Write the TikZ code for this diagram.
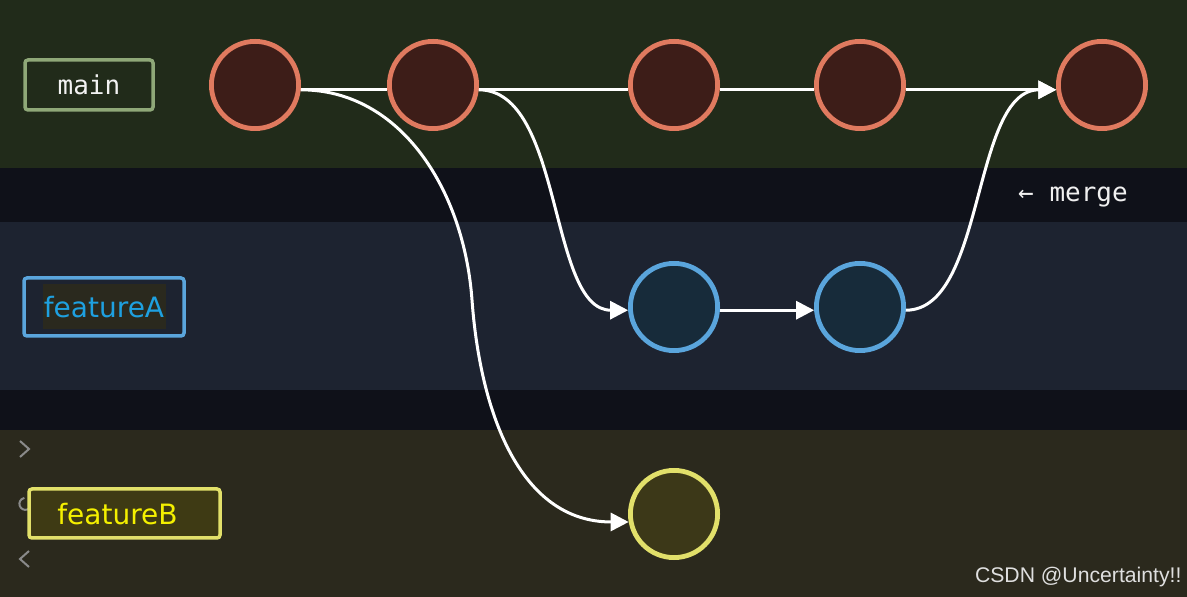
\documentclass[tikz,border=0pt]{standalone}
\usepackage{fontspec}
\setmainfont{DejaVu Sans}
\setmonofont{DejaVu Sans Mono}
\newfontfamily\wmfont{Liberation Sans}
\usetikzlibrary{arrows.meta}
\definecolor{topband}{HTML}{212B1A}
\definecolor{gapband}{HTML}{0F1119}
\definecolor{midband}{HTML}{1D2330}
\definecolor{lowband}{HTML}{2B291D}
\definecolor{mainring}{HTML}{E07A5F}
\definecolor{mainfill}{HTML}{3D1D18}
\definecolor{aring}{HTML}{5AA5DC}
\definecolor{afill}{HTML}{172B3A}
\definecolor{bring}{HTML}{E2E06A}
\definecolor{bfill}{HTML}{3C3818}
\definecolor{mainedge}{HTML}{8FA878}
\definecolor{atext}{HTML}{1EA0E0}
\definecolor{abg}{HTML}{2A291E}
\definecolor{btext}{HTML}{F4F000}
\definecolor{bbox}{HTML}{3E3A14}
\definecolor{icongray}{HTML}{8A8A8A}
\begin{document}
\begin{tikzpicture}[x=0.5pt,y=-0.5pt,line width=1.5pt,
  commit/.style={circle,line width=2.4pt,minimum size=43.6pt,inner sep=0pt},
  onmain/.style={commit,draw=mainring,fill=mainfill},
  ona/.style={commit,draw=aring,fill=afill},
  onb/.style={commit,draw=bring,fill=bfill},
  link/.style={draw=white,line width=1.5pt},
  tolink/.style={link,-{Triangle[length=9pt,width=9pt]}},
  tag/.style={rounded corners=1.5pt,line width=1.75pt,inner sep=0pt},
  icon/.style={draw=icongray,line width=1pt}]
			\fill[topband] (0,0) rectangle (1187,168);
			\fill[gapband] (0,168) rectangle (1187,222);
			\fill[midband] (0,222) rectangle (1187,390);
			\fill[gapband] (0,390) rectangle (1187,430);
			\fill[lowband] (0,430) rectangle (1187,597);
			\node[onmain] (c1) at (255,85){};
			\node[onmain] (c2) at (433,85){};
			\node[onmain] (c3) at (674,85){};
			\node[onmain] (c4) at (860,85){};
			\node[onmain] (c5) at (1102,85){};
			\node[ona] (a1) at (674,307){};
			\node[ona] (a2) at (860,307){};
			\node[onb] (b1) at (674,514){};
			\coordinate (bvia) at (472,300);
			\draw[link] (c1.-6)--(c2.186);
			\draw[link] (c2.-6)--(c3.186);
			\draw[link] (c3.-6)--(c4.186);
			\draw[tolink] (c4.-6)--(c5.186);
			\draw[tolink] (a1.-4)--(a2.184);
			\draw[tolink] (c1.-6) .. controls +(100,0) and +(-8,-110) .. (bvia)
			  .. controls +(8,110) and +(-110,0) .. (b1.190);
			\draw[tolink] (c2.-6) .. controls +(85,0) and +(-80,0) .. (a1.184);
			\draw[tolink] (a2.-4) .. controls +(80,0) and +(-85,0) .. (c5.186);
			\node[tag,draw=mainedge,fill=topband,minimum width=64pt,minimum height=25pt,
			  text=white!90!gray,font=\ttfamily\fontsize{13}{15}\selectfont] (lblmain) at (89,85){main};
			\node[tag,draw=aring,fill=midband,minimum width=80pt,minimum height=29pt] (lbla) at (104,307){};
			\node[fill=abg,text=atext,inner sep=0pt,minimum width=61.5pt,minimum height=22.5pt,
			  font=\fontsize{14}{16}\selectfont] (txta) at (lbla){featureA};
			\draw[icon] (20,441)--(29,449)--(20,457);
			\draw[icon] (29,551)--(20,559)--(29,567);
			\draw[icon] (30,500) arc[start angle=-40,end angle=260,radius=6];
			\node[tag,draw=bring,fill=bbox,minimum width=95.5pt,minimum height=24.5pt] (lblb) at (124.5,513.5){};
			\node[text=btext,inner sep=0pt,font=\fontsize{14}{16}\selectfont] (txtb) at (117.5,514){featureB};
			\node[text=white!88!gray,font=\ttfamily\fontsize{13}{15}\selectfont] (mergetxt) at (1073,197){← merge};
			\node[anchor=east,inner sep=0pt,text=white!75!gray,font=\wmfont\fontsize{10.6}{12}\selectfont] (mark) at (1183,577){CSDN @Uncertainty!!};
		\end{tikzpicture}
\end{document}
